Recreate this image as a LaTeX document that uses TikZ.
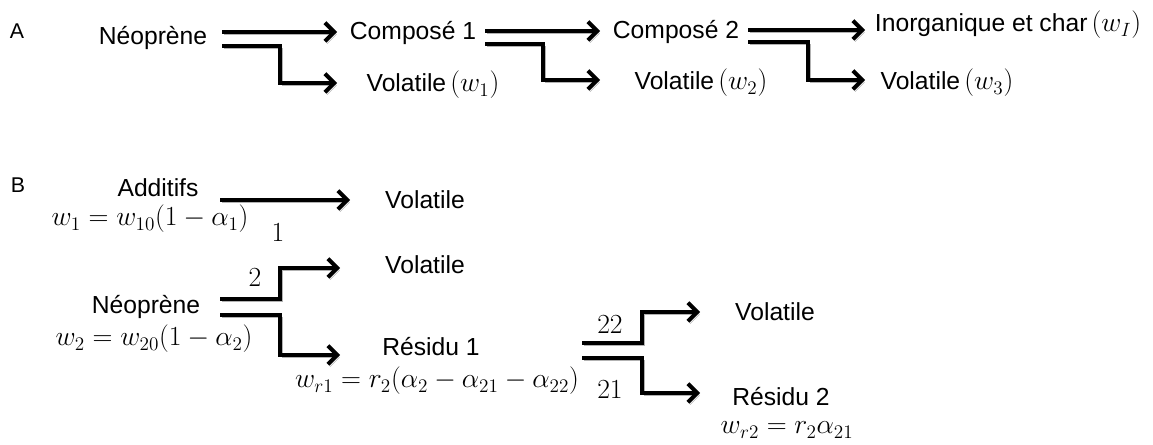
\documentclass[tikz,border=0pt]{standalone}
\usepackage{fontspec}
\setmainfont{Liberation Sans}
\usetikzlibrary{arrows.meta,calc}
\newcommand\mbig{\fontsize{21}{24}\selectfont}
\begin{document}
\begin{tikzpicture}[x=0.75pt,y=-0.75pt,
  txt/.style={font=\fontsize{18.5}{22}\selectfont, inner sep=0pt},
  mth/.style={font=\mbig, inner sep=0pt},
  lbl/.style={font=\fontsize{16}{20}\selectfont, inner sep=0pt},
  flow/.style={line width=3pt, -{Straight Barb[length=7pt,width=14pt]}, line join=miter,
    preaction={draw=black!30, transform canvas={shift={(1.6pt,-1.8pt)}}}},
]
\useasboundingbox (0,0) rectangle (1153,445);

% ---------- Part A ----------
\node[lbl] (labA) at (17,31) {A};
\node[txt] (neoA) at (153,38) {Néoprène};
\node[txt] (cp1) at (413,33) {Composé 1};
\node[txt] (vo1) at (433,85) {Volatile\,{\mbig$(w_1)$}};
\node[txt] (cp2) at (676,32) {Composé 2};
\node[txt] (vo2) at (701,83) {Volatile\,{\mbig$(w_2)$}};
\node[txt] (inorg) at (1008,25) {Inorganique et char\,{\mbig$(w_I)$}};
\node[txt] (vo3) at (947,83) {Volatile\,{\mbig$(w_3)$}};

\coordinate (a1s) at (222,32);  \coordinate (a1t) at (337,32);
\coordinate (a1l) at (222,46);  \coordinate (a1k) at (280,46);
\coordinate (a1b) at (337,83);
\coordinate (a2s) at (485,31);  \coordinate (a2t) at (600,31);
\coordinate (a2l) at (485,44);  \coordinate (a2k) at (543,44);
\coordinate (a2b) at (600,80);
\coordinate (a3s) at (748,30);  \coordinate (a3t) at (865,30);
\coordinate (a3l) at (748,42);  \coordinate (a3k) at (808,42);
\coordinate (a3b) at (865,80);

\draw[flow] (a1s) -- (a1t);
\draw[flow] (a1l) -- (a1k) |- (a1b);
\draw[flow] (a2s) -- (a2t);
\draw[flow] (a2l) -- (a2k) |- (a2b);
\draw[flow] (a3s) -- (a3t);
\draw[flow] (a3l) -- (a3k) |- (a3b);

% ---------- Part B ----------
\node[lbl] (labB) at (18,185) {B};
\node[txt] (add) at (158,188) {Additifs};
\node[mth] (eq1) at (150,219) {$w_1=w_{10}(1-\alpha_1)$};
\node[txt] (vb1) at (425,200) {Volatile};
\node[mth] (n1) at (278,233) {$1$};

\node[txt] (neoB) at (146,307) {Néoprène};
\node[mth] (eq2) at (154,339) {$w_2=w_{20}(1-\alpha_2)$};
\node[mth] (n2) at (255,278) {$2$};
\node[txt] (vb2) at (425,265) {Volatile};
\node[txt] (res1) at (431,347) {Résidu 1};
\node[mth] (eqr1) at (437,381) {$w_{r1}=r_2(\alpha_2-\alpha_{21}-\alpha_{22})$};

\node[mth] (n22) at (610,325) {$22$};
\node[mth] (n21) at (610,390) {$21$};
\node[txt] (vb3) at (775,312) {Volatile};
\node[txt] (res2) at (781,397) {Résidu 2};
\node[mth] (eqr2) at (787,430) {$w_{r2}=r_2\alpha_{21}$};

\coordinate (b1s) at (220,200); \coordinate (b1t) at (350,200);
\coordinate (b2s) at (220,299); \coordinate (b2k) at (280,299); \coordinate (b2t) at (340,268);
\coordinate (b2l) at (220,315); \coordinate (b2m) at (280,315); \coordinate (b2b) at (340,355);
\coordinate (b3s) at (582,343); \coordinate (b3k) at (642,343); \coordinate (b3t) at (700,312);
\coordinate (b3l) at (582,358); \coordinate (b3m) at (642,358); \coordinate (b3b) at (700,393);

\draw[flow] (b1s) -- (b1t);
\draw[flow] (b2s) -- (b2k) |- (b2t);
\draw[flow] (b2l) -- (b2m) |- (b2b);
\draw[flow] (b3s) -- (b3k) |- (b3t);
\draw[flow] (b3l) -- (b3m) |- (b3b);
\end{tikzpicture}
\end{document}
